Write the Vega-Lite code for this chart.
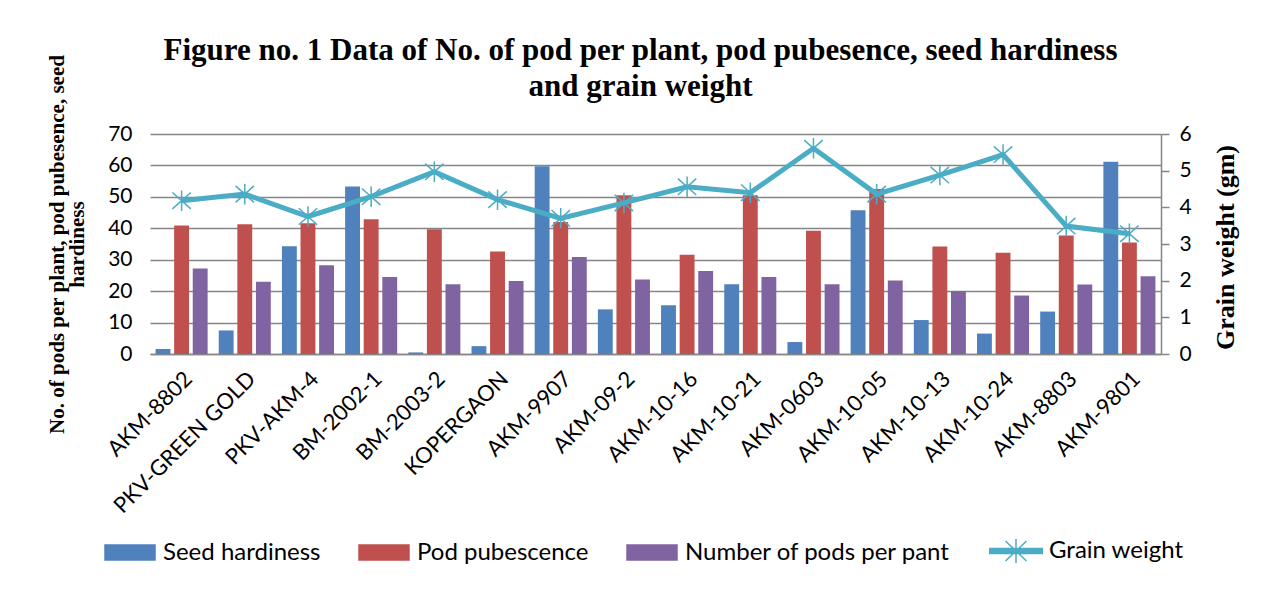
{
  "$schema": "https://vega.github.io/schema/vega-lite/v6.json",
  "width": 1011,
  "height": 220,
  "autosize": {"type": "none"},
  "padding": {"left": 150, "top": 134, "right": 107, "bottom": 252},
  "background": "white",
  "title": {
    "text": ["Figure no. 1 Data of No. of pod per plant, pod pubesence, seed hardiness", "and grain weight"],
    "font": "Liberation Serif",
    "fontSize": 31,
    "fontWeight": "bold",
    "color": "black",
    "anchor": "middle",
    "dx": -15,
    "dy": 85,
    "lineHeight": 36,
    "offset": 36
  },
  "config": {"view": {"stroke": null}, "font": "Lato"},
  "data": {
    "values": [
      {"variety": "AKM-8802", "Seed hardiness": 1.6, "Pod pubescence": 40.9, "Number of pods per pant": 27.2, "Grain weight": 4.18},
      {"variety": "PKV-GREEN GOLD", "Seed hardiness": 7.5, "Pod pubescence": 41.3, "Number of pods per pant": 23.0, "Grain weight": 4.36},
      {"variety": "PKV-AKM-4", "Seed hardiness": 34.3, "Pod pubescence": 41.6, "Number of pods per pant": 28.2, "Grain weight": 3.75},
      {"variety": "BM-2002-1", "Seed hardiness": 53.3, "Pod pubescence": 42.9, "Number of pods per pant": 24.5, "Grain weight": 4.29},
      {"variety": "BM-2003-2", "Seed hardiness": 0.5, "Pod pubescence": 39.7, "Number of pods per pant": 22.2, "Grain weight": 4.97},
      {"variety": "KOPERGAON", "Seed hardiness": 2.5, "Pod pubescence": 32.6, "Number of pods per pant": 23.2, "Grain weight": 4.21},
      {"variety": "AKM-9907", "Seed hardiness": 59.7, "Pod pubescence": 42.0, "Number of pods per pant": 30.9, "Grain weight": 3.70},
      {"variety": "AKM-09-2", "Seed hardiness": 14.2, "Pod pubescence": 50.5, "Number of pods per pant": 23.7, "Grain weight": 4.12},
      {"variety": "AKM-10-16", "Seed hardiness": 15.5, "Pod pubescence": 31.6, "Number of pods per pant": 26.4, "Grain weight": 4.56},
      {"variety": "AKM-10-21", "Seed hardiness": 22.2, "Pod pubescence": 50.5, "Number of pods per pant": 24.5, "Grain weight": 4.40},
      {"variety": "AKM-0603", "Seed hardiness": 3.8, "Pod pubescence": 39.2, "Number of pods per pant": 22.2, "Grain weight": 5.61},
      {"variety": "AKM-10-05", "Seed hardiness": 45.7, "Pod pubescence": 52.5, "Number of pods per pant": 23.4, "Grain weight": 4.36},
      {"variety": "AKM-10-13", "Seed hardiness": 10.8, "Pod pubescence": 34.2, "Number of pods per pant": 20.0, "Grain weight": 4.88},
      {"variety": "AKM-10-24", "Seed hardiness": 6.5, "Pod pubescence": 32.2, "Number of pods per pant": 18.6, "Grain weight": 5.44},
      {"variety": "AKM-8803", "Seed hardiness": 13.5, "Pod pubescence": 37.7, "Number of pods per pant": 22.1, "Grain weight": 3.49},
      {"variety": "AKM-9801", "Seed hardiness": 61.2, "Pod pubescence": 35.5, "Number of pods per pant": 24.7, "Grain weight": 3.28}
    ]
  },
  "encoding": {
    "x": {
      "field": "variety",
      "type": "nominal",
      "sort": null,
      "scale": {"paddingInner": 0.176, "paddingOuter": 0.088},
      "axis": {
        "title": null,
        "labelAngle": -45,
        "labelFont": "Lato",
        "labelFontSize": 22,
        "labelColor": "black",
        "labelPadding": 14,
        "labelLimit": 400,
        "domainColor": "#868686",
        "domainWidth": 1.5,
        "ticks": false
      }
    }
  },
  "layer": [
    {
      "transform": [{"fold": ["Seed hardiness", "Pod pubescence", "Number of pods per pant"], "as": ["series", "value"]}],
      "mark": {"type": "bar"},
      "encoding": {
        "xOffset": {"field": "series", "type": "nominal", "sort": ["Seed hardiness", "Pod pubescence", "Number of pods per pant"], "scale": {"paddingInner": 0.2, "paddingOuter": 0}},
        "y": {
          "field": "value",
          "type": "quantitative",
          "scale": {"domain": [0, 70]},
          "axis": {
            "title": ["No. of pods per plant, pod pubesence, seed", "hardiness"],
            "titleFont": "Liberation Serif",
            "titleFontSize": 21,
            "titleFontWeight": "bold",
            "titleColor": "black",
            "titleLineHeight": 20,
            "titlePadding": 20,
            "values": [0, 10, 20, 30, 40, 50, 60, 70],
            "grid": true,
            "gridColor": "#868686",
            "gridWidth": 1.5,
            "domain": false,
            "ticks": false,
            "labelFont": "Lato",
            "labelFontSize": 21,
            "labelColor": "black",
            "labelPadding": 18
          }
        },
        "color": {
          "field": "series",
          "type": "nominal",
          "scale": {
            "domain": ["Seed hardiness", "Pod pubescence", "Number of pods per pant", "Grain weight"],
            "range": ["#4F81BD", "#C0504D", "#8064A2", "#4BACC6"]
          },
          "legend": {
            "orient": "none",
            "legendX": -46,
            "legendY": 391,
            "direction": "horizontal",
            "title": null,
            "symbolSize": 2500,
            "symbolType": "M-1,-0.3H1V0.3H-1Z",
            "symbolStrokeWidth": 1.5,
            "labelFont": "Lato",
            "labelFontSize": 24,
            "labelColor": "black",
            "labelOffset": 7,
            "labelLimit": 500,
            "columnPadding": 35,
            "encode": {
              "symbols": {
                "update": {
                  "size": {"value": 2500},
                  "shape": {"signal": "datum.value === 'Grain weight' ? 'M-1.05,-0.1H1.05V0.1H-1.05ZM0,-0.48V0.48M-0.42,-0.4L0.42,0.4M-0.42,0.4L0.42,-0.4' : 'M-1,-0.3H1V0.3H-1Z'"},
                  "fill": {"signal": "scale('color', datum.value)"},
                  "stroke": {"signal": "datum.value === 'Grain weight' ? scale('color', datum.value) : 'transparent'"},
                  "strokeWidth": {"value": 1.5},
                  "opacity": {"value": 1},
                  "fillOpacity": {"value": 1}
                }
              }
            }
          }
        }
      }
    },
    {
      "encoding": {
        "y": {
          "field": "Grain weight",
          "type": "quantitative",
          "scale": {"domain": [0, 6]},
          "axis": {
            "orient": "right",
            "title": "Grain weight (gm)",
            "titleAngle": 270,
            "titleAlign": "center",
            "titleBaseline": "middle",
            "titleX": 64,
            "titleY": 113,
            "titleFont": "Liberation Serif",
            "titleFontSize": 26,
            "titleFontWeight": "bold",
            "titleColor": "black",
            "values": [0, 1, 2, 3, 4, 5, 6],
            "grid": false,
            "domain": true,
            "domainColor": "#868686",
            "domainWidth": 1.5,
            "ticks": true,
            "tickSize": 8,
            "tickColor": "#868686",
            "tickWidth": 1.5,
            "labelFont": "Lato",
            "labelFontSize": 21,
            "labelColor": "black",
            "labelPadding": 10
          }
        },
        "color": {"datum": "Grain weight"}
      },
      "layer": [
        {"mark": {"type": "line", "strokeWidth": 5}},
        {"mark": {"type": "point", "shape": "M0,-1V1M-0.9,-0.8L0.9,0.8M-0.9,0.8L0.9,-0.8", "size": 420, "filled": false, "strokeWidth": 1.5, "opacity": 1}}
      ]
    }
  ],
  "resolve": {"scale": {"y": "independent"}}
}
